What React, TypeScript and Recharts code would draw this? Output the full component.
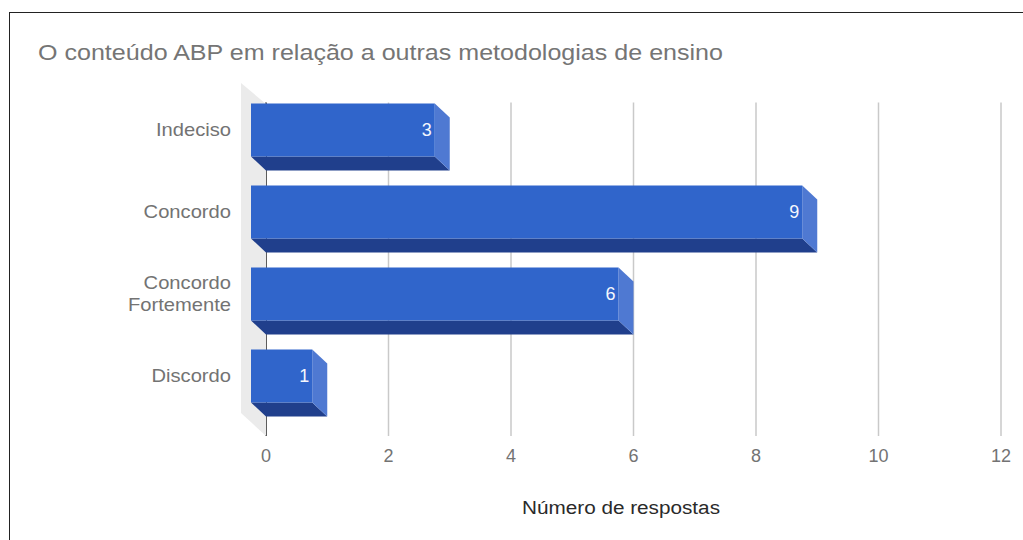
import { BarChart, Bar, XAxis, YAxis, CartesianGrid, LabelList } from 'recharts';

const categories = ['Indeciso', 'Concordo', 'Concordo Fortemente', 'Discordo'];
const responses = [3, 9, 6, 1];
const valueTicks = [0, 2, 4, 6, 8, 10, 12];

const rows = categories.map((name, i) => ({ name, value: responses[i] }));

const DEPTH_X = 15;
const DEPTH_Y = 14;

function Box3D({ x, y, width, height }: any) {
  const fx = x - DEPTH_X;
  const fy = y - DEPTH_Y;
  const right = x + width;
  const bottom = y + height;
  return (
    <g>
      <polygon
        points={`${fx},${fy + height} ${fx + width},${fy + height} ${right},${bottom} ${x},${bottom}`}
        fill="#203f8c"
      />
      <polygon
        points={`${fx + width},${fy} ${right},${y} ${right},${bottom} ${fx + width},${fy + height}`}
        fill="#4f79d2"
      />
      <rect x={fx} y={fy} width={width} height={height} fill="#3065cb" />
    </g>
  );
}

function ValueLabel({ x, y, width, height, value }: any) {
  return (
    <text
      x={x + width - DEPTH_X - 3}
      y={y + height / 2 - DEPTH_Y + 6}
      textAnchor="end"
      fontSize={18}
      fill="#f4f7fd"
      fontFamily="Liberation Sans"
    >
      {value}
    </text>
  );
}

function CategoryTick({ y, payload }: any) {
  const label = String(payload.value);
  const lines = label === 'Concordo Fortemente' ? ['Concordo', 'Fortemente'] : [label];
  const top = y - DEPTH_Y + 7 - (lines.length - 1) * 11;
  return (
    <text
      transform="translate(231 0) scale(1.12 1)"
      textAnchor="end"
      fontSize={18}
      fill="#737373"
      fontFamily="Liberation Sans"
    >
      {lines.map((line, i) => (
        <tspan key={line} x={0} y={top + i * 22}>
          {line}
        </tspan>
      ))}
    </text>
  );
}

export default function App() {
  return (
    <div
      style={{
        position: 'absolute',
        left: 0,
        top: 0,
        width: 1023,
        height: 540,
        background: '#fff',
        overflow: 'hidden',
      }}
    >
      <div
        style={{
          position: 'absolute',
          left: 9,
          top: 12,
          width: 1014,
          height: 528,
          borderLeft: '1.5px solid #222',
          borderTop: '1.5px solid #222',
          boxSizing: 'border-box',
        }}
      />
      <BarChart
        width={1023}
        height={540}
        data={rows}
        layout="vertical"
        margin={{ top: 102.5, right: 22, bottom: 60, left: 0 }}
        style={{ position: 'absolute', left: 0, top: 0 }}
      >
        <polygon points="241,83 266,104 266,436 241,413" fill="#ebebeb" />
        <CartesianGrid horizontal={false} stroke="#c9c9c9" strokeWidth={1.5} />
        {/* zero line lives in the grid layer so the bars cover it */}
        <CartesianGrid
          horizontal={false}
          verticalValues={[0]}
          stroke="#333333"
          strokeWidth={1.5}
        />
        <XAxis
          type="number"
          domain={[0, 12]}
          ticks={valueTicks}
          axisLine={false}
          tickLine={false}
          height={44}
          tickMargin={7}
          tick={{ fontSize: 18, fill: '#737373', fontFamily: 'Liberation Sans' }}
        />
        <YAxis
          type="category"
          dataKey="name"
          width={266}
          padding={{ top: 0, bottom: 5.5 }}
          axisLine={false}
          tickLine={false}
          interval={0}
          tick={<CategoryTick />}
        />
        <Bar dataKey="value" barSize={53} shape={<Box3D />} isAnimationActive={false}>
          <LabelList dataKey="value" content={<ValueLabel />} />
        </Bar>
        <text
          x={38}
          y={60}
          fontSize={22}
          fill="#757575"
          fontFamily="Liberation Sans"
          textLength={685}
          lengthAdjust="spacingAndGlyphs"
        >
          O conteúdo ABP em relação a outras metodologias de ensino
        </text>
        <text
          x={522}
          y={514}
          fontSize={18}
          fill="#2a2a2a"
          fontFamily="Liberation Sans"
          textLength={198}
          lengthAdjust="spacingAndGlyphs"
        >
          Número de respostas
        </text>
      </BarChart>
    </div>
  );
}
